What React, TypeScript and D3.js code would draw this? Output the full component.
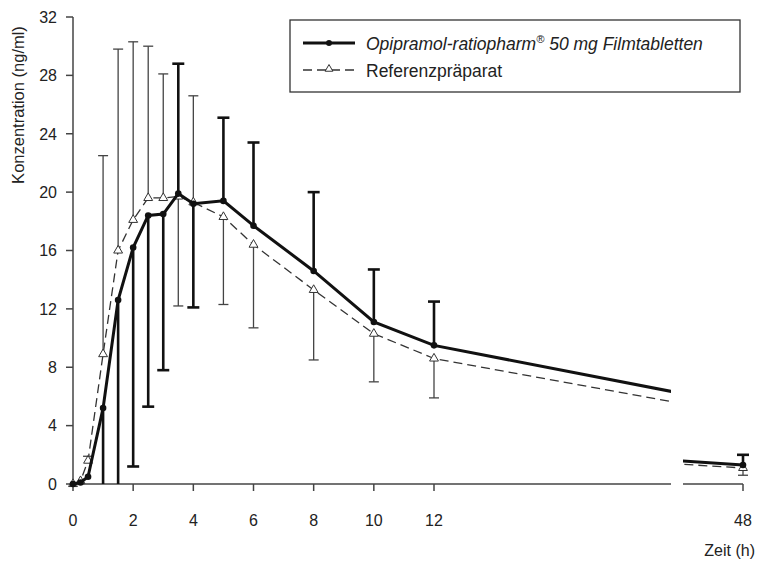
import * as d3 from "d3";

// sampling times (h); the 24 h value is hidden behind the axis break
const times = [0, 0.25, 0.5, 1, 1.5, 2, 2.5, 3, 3.5, 4, 5, 6, 8, 10, 12, 24, 48];
const opipramol = [0, 0.1, 0.5, 5.2, 12.6, 16.2, 18.4, 18.5, 19.9, 19.2, 19.4, 17.7, 14.6, 11.1, 9.5, 4.7, 1.3];
const referenz = [0, 0.2, 1.6, 8.9, 16.0, 18.1, 19.6, 19.6, 19.7, 19.3, 18.3, 16.4, 13.3, 10.3, 8.6, 4.1, 1.1];
// end of the one-sided SD bar for each point (null = no bar)
const opipramolBar = [null, null, null, -3, -4, 1.2, 5.3, 7.8, 28.8, 12.1, 25.1, 23.4, 20.0, 14.7, 12.5, null, 2.0];
const referenzBar = [null, null, 1.9, 22.5, 29.8, 30.3, 30.0, 28.1, 12.2, 26.6, 12.3, 10.7, 8.5, 7.0, 5.9, null, 0.6];

const xTicks = [0, 2, 4, 6, 8, 10, 12];
const xTicksRight = [48];
const yTicks = [0, 4, 8, 12, 16, 20, 24, 28, 32];

const W = 757;
const H = 563;
const left = 73;
const breakL = 671;
const breakR = 683;
const right = 743;
const top = 17;
const bottom = 484;

const x1 = d3.scaleLinear().domain([0, 12]).range([left, 434]);
const x2 = d3.scaleLinear().domain([46, 48]).range([breakR, right]);
const y = d3.scaleLinear().domain([0, 32]).range([bottom, top]);

const font = "'Liberation Sans', Arial, sans-serif";

type Pt = { t: number; v: number; bar: number | null };

const toPts = (vals: number[], bars: (number | null)[]): Pt[] =>
  times.map((t, i) => ({ t, v: vals[i], bar: bars[i] }));

const xOf = (t: number) => (t <= 20 ? x1(t) : x2(t));
const visible = (t: number) => t <= 19.9 || t >= 46;

function Series({ pts, kind }: { pts: Pt[]; kind: "solid" | "dash" }) {
  const solid = kind === "solid";
  const line1 = d3.line<Pt>().x((d) => x1(d.t)).y((d) => y(d.v));
  const line2 = d3.line<Pt>().x((d) => x2(d.t)).y((d) => y(d.v));
  const stroke = solid ? "#111" : "#333";
  const lw = solid ? 3 : 1.3;
  const dash = solid ? undefined : "9,5";
  const tri = d3.symbol(d3.symbolTriangle, 34)();
  const shown = pts.filter((d) => visible(d.t));
  return (
    <g>
      <path d={line1(pts) || ""} fill="none" stroke={stroke} strokeWidth={lw} strokeDasharray={dash} clipPath="url(#seg1)" />
      <path d={line2(pts) || ""} fill="none" stroke={stroke} strokeWidth={lw} strokeDasharray={dash} clipPath="url(#seg2)" />
      {shown.map((d, i) => {
        if (d.bar === null) return null;
        const cx = xOf(d.t);
        const end = Math.max(0, d.bar);
        const capW = solid ? 6 : 5;
        return (
          <g key={"b" + i} stroke={solid ? "#111" : "#444"} strokeWidth={solid ? 2.6 : 1.3}>
            <line x1={cx} x2={cx} y1={y(d.v)} y2={y(end)} />
            {d.bar >= 0 && <line x1={cx - capW} x2={cx + capW} y1={y(end)} y2={y(end)} />}
          </g>
        );
      })}
      {shown.map((d, i) =>
        solid ? (
          <circle key={"m" + i} cx={xOf(d.t)} cy={y(d.v)} r={3.3} fill="#111" />
        ) : (
          <path key={"m" + i} d={tri || ""} transform={`translate(${xOf(d.t)},${y(d.v)})`} fill="#fff" stroke="#333" strokeWidth={1} />
        )
      )}
    </g>
  );
}

export default function App() {
  const opi = toPts(opipramol, opipramolBar);
  const ref = toPts(referenz, referenzBar);
  const tri = d3.symbol(d3.symbolTriangle, 26)();
  return (
    <svg width={W} height={H} style={{ position: "absolute", left: 0, top: 0, background: "#fff" }} fontFamily={font}>
      <defs>
        <clipPath id="seg1">
          <rect x={0} y={0} width={breakL} height={H} />
        </clipPath>
        <clipPath id="seg2">
          <rect x={breakR} y={0} width={W - breakR} height={H} />
        </clipPath>
      </defs>

      {/* y axis */}
      <g stroke="#444" strokeWidth={1.5}>
        <line x1={left} x2={left} y1={top} y2={bottom} />
        {yTicks.map((t) => (
          <line key={t} x1={left - 7} x2={left} y1={y(t)} y2={y(t)} />
        ))}
      </g>
      {yTicks.map((t) => (
        <text key={t} x={57} y={y(t)} dy="0.36em" textAnchor="end" fontSize={16} fill="#222">
          {t}
        </text>
      ))}
      <text transform={`translate(24,105) rotate(-90)`} textAnchor="middle" fontSize={16.5} fill="#222">
        Konzentration (ng/ml)
      </text>

      {/* broken x axis */}
      <g stroke="#444" strokeWidth={1.5}>
        <line x1={left} x2={breakL} y1={bottom} y2={bottom} />
        <line x1={breakR} x2={right} y1={bottom} y2={bottom} />
        {xTicks.map((t) => (
          <line key={t} x1={x1(t)} x2={x1(t)} y1={bottom} y2={bottom + 7} />
        ))}
        {xTicksRight.map((t) => (
          <line key={t} x1={x2(t)} x2={x2(t)} y1={bottom} y2={bottom + 7} />
        ))}
      </g>
      {xTicks.map((t) => (
        <text key={t} x={x1(t)} y={526} textAnchor="middle" fontSize={16} fill="#222">
          {t}
        </text>
      ))}
      {xTicksRight.map((t) => (
        <text key={t} x={x2(t)} y={526} textAnchor="middle" fontSize={16} fill="#222">
          {t}
        </text>
      ))}
      <text x={755} y={556} textAnchor="end" fontSize={16} fill="#222">
        Zeit (h)
      </text>

      <Series pts={ref} kind="dash" />
      <Series pts={opi} kind="solid" />

      {/* legend */}
      <rect x={290} y={20} width={450} height={72} fill="#fff" stroke="#333" strokeWidth={1.3} />
      <line x1={303} x2={355} y1={43} y2={43} stroke="#111" strokeWidth={3} />
      <circle cx={329} cy={43} r={3} fill="#111" />
      <text x={366} y={50} fontSize={17.5} fontStyle="italic" fill="#222">
        Opipramol-ratiopharm
        <tspan dy={-7} fontSize={11}>®</tspan>
        <tspan dy={7}> 50 mg Filmtabletten</tspan>
      </text>
      <line x1={303} x2={355} y1={70} y2={70} stroke="#333" strokeWidth={1.3} strokeDasharray="9,5" />
      <path d={tri || ""} transform="translate(329,69)" fill="#fff" stroke="#333" strokeWidth={1} />
      <text x={366} y={77} fontSize={17.5} fill="#222">
        Referenzpräparat
      </text>
    </svg>
  );
}
